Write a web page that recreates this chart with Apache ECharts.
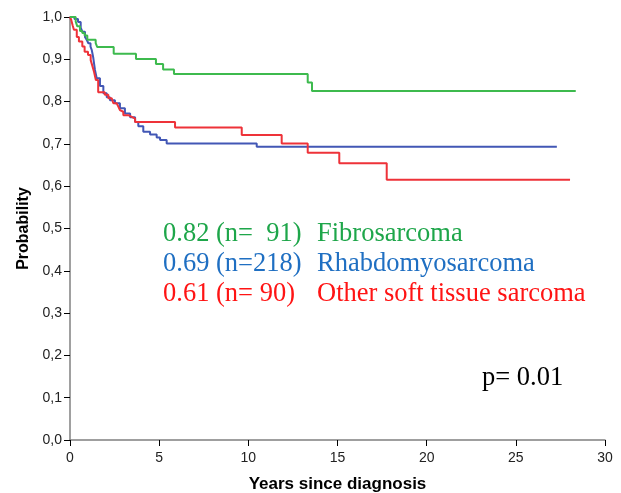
<!DOCTYPE html>
<html>
<head>
<meta charset="utf-8">
<script src="https://cdn.jsdelivr.net/npm/echarts@6/dist/echarts.min.js"></script>
<style>
  html, body { margin: 0; padding: 0; background: #ffffff; }
  #chart { width: 621px; height: 493px; }
</style>
</head>
<body>
<div id="chart"></div>
<script>
// Kaplan-Meier survival estimates: event times (years) and survival after each step
const fibroTimes = [0, 0.32, 0.41, 0.56, 0.69, 0.82, 0.97, 1.44, 1.53, 2.45, 3.7, 4.82, 5.22, 5.83, 13.33, 13.57, 28.36];
const fibroSurv  = [1.0, 0.989, 0.978, 0.967, 0.962, 0.956, 0.946, 0.938, 0.929, 0.913, 0.901, 0.889, 0.876, 0.865, 0.845, 0.825, 0.825];

const rhabdoTimes = [0, 0.25, 0.45, 0.6, 0.7, 0.84, 0.95, 1.03, 1.15, 1.22, 1.3, 1.35, 1.4, 1.5, 1.68, 1.87, 2.06, 2.24, 2.52, 2.8, 3.08, 3.37, 3.65, 3.83, 4.11, 4.49, 4.86, 5.05, 5.42, 10.47, 27.3];
const rhabdoSurv  = [1.0, 0.995, 0.988, 0.975, 0.965, 0.953, 0.945, 0.938, 0.93, 0.922, 0.905, 0.89, 0.875, 0.855, 0.837, 0.82, 0.81, 0.803, 0.796, 0.784, 0.772, 0.763, 0.752, 0.742, 0.729, 0.722, 0.715, 0.709, 0.701, 0.693, 0.693];

const otherTimes = [0, 0.07, 0.15, 0.22, 0.38, 0.5, 0.69, 0.82, 1.01, 1.16, 1.25, 1.35, 1.45, 1.58, 1.95, 2.15, 2.34, 2.43, 2.62, 2.71, 2.8, 2.9, 2.99, 3.27, 3.46, 3.65, 5.89, 9.63, 11.87, 13.33, 15.1, 17.76, 28.04];
const otherSurv  = [1.0, 0.993, 0.98, 0.97, 0.953, 0.942, 0.93, 0.918, 0.91, 0.898, 0.885, 0.87, 0.851, 0.822, 0.816, 0.808, 0.804, 0.796, 0.792, 0.788, 0.78, 0.776, 0.768, 0.764, 0.76, 0.752, 0.739, 0.721, 0.701, 0.679, 0.654, 0.615, 0.615];

// Legend rows: summary value / group size, and group name
const legendStats  = ['0.82 (n=  91)', '0.69 (n=218)', '0.61 (n= 90)'];
const legendNames  = ['Fibrosarcoma', 'Rhabdomyosarcoma', 'Other soft tissue sarcoma'];
const pValueText = 'p= 0.01';

const lineColors = { fibro: '#3dba4e', rhabdo: '#4257b5', other: '#ee3239' };
const textColors = ['#1ea64a', '#1f6fc2', '#ff1414'];
const serifFont = '26.5px "Liberation Serif", "Times New Roman", serif';

function pairs(ts, ss) { return ts.map((t, i) => [t, ss[i]]); }

const chart = echarts.init(document.getElementById('chart'), null, { renderer: 'canvas' });

function kmSeries(name, ts, ss, color) {
  return {
    name: name,
    type: 'line',
    step: 'end',
    data: pairs(ts, ss),
    showSymbol: false,
    symbol: 'none',
    animation: false,
    lineStyle: { color: color, width: 2 },
    emphasis: { disabled: true }
  };
}

const legendGraphics = [];
legendStats.forEach((s, i) => {
  legendGraphics.push({
    type: 'text', left: 163, top: 221 + i * 30,
    style: { text: s, fill: textColors[i], font: serifFont }
  });
  legendGraphics.push({
    type: 'text', left: 317, top: 221 + i * 30,
    style: { text: legendNames[i], fill: textColors[i], font: serifFont }
  });
});
legendGraphics.push({
  type: 'text', left: 482, top: 365,
  style: { text: pValueText, fill: '#000000', font: serifFont }
});

chart.setOption({
  backgroundColor: '#ffffff',
  animation: false,
  grid: { left: 70, right: 16, top: 17, bottom: 53, containLabel: false, outerBoundsMode: 'none' },
  xAxis: {
    type: 'value', min: 0, max: 30, interval: 5,
    name: 'Years since diagnosis', nameLocation: 'middle', nameGap: 36,
    nameTextStyle: { fontFamily: 'Liberation Sans, Arial, sans-serif', fontSize: 17, fontWeight: 'bold', color: '#000' },
    axisLine: { show: true, onZero: false, lineStyle: { color: '#808080', width: 1.5 } },
    axisTick: { show: true, length: 6, lineStyle: { color: '#000', width: 1 } },
    axisLabel: { margin: 11, fontFamily: 'Liberation Sans, Arial, sans-serif', fontSize: 14, color: '#222' },
    splitLine: { show: false }
  },
  yAxis: {
    type: 'value', min: 0, max: 1, interval: 0.1,
    name: 'Probability', nameLocation: 'middle', nameGap: 33,
    nameTextStyle: { fontFamily: 'Liberation Sans, Arial, sans-serif', fontSize: 16, fontWeight: 'bold', color: '#000' },
    axisLine: { show: true, lineStyle: { color: '#a0a0a0', width: 2 } },
    axisTick: { show: true, length: 6, lineStyle: { color: '#000', width: 1 } },
    axisLabel: {
      margin: 8, fontFamily: 'Liberation Sans, Arial, sans-serif', fontSize: 14, color: '#222',
      formatter: v => v.toFixed(1).replace('.', ',')
    },
    splitLine: { show: false }
  },
  series: [
    kmSeries('Rhabdomyosarcoma', rhabdoTimes, rhabdoSurv, lineColors.rhabdo),
    kmSeries('Other soft tissue sarcoma', otherTimes, otherSurv, lineColors.other),
    kmSeries('Fibrosarcoma', fibroTimes, fibroSurv, lineColors.fibro)
  ],
  graphic: legendGraphics
});
</script>
</body>
</html>
